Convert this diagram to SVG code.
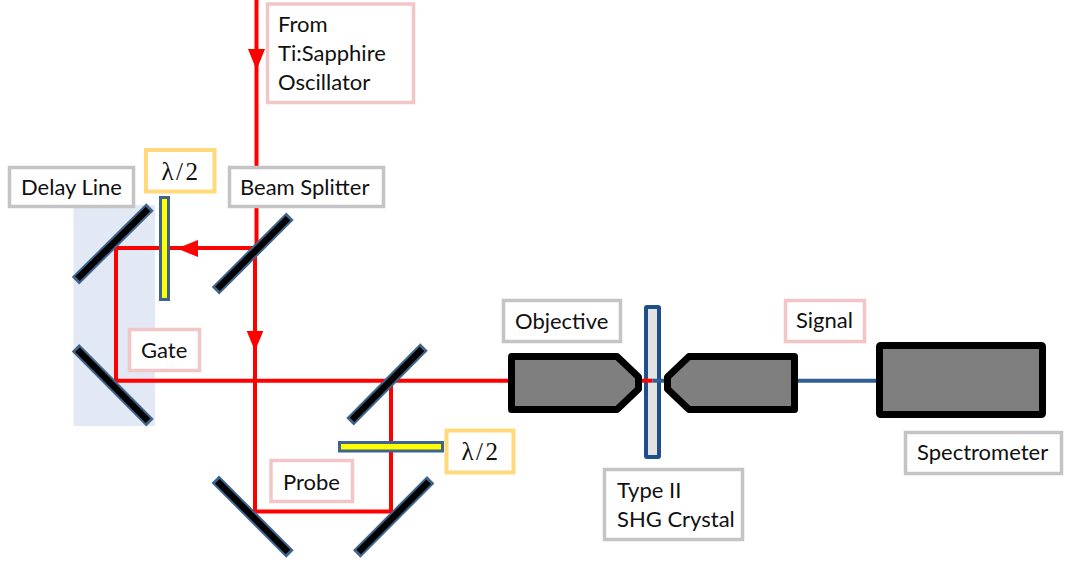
<svg xmlns="http://www.w3.org/2000/svg" width="1065" height="563" viewBox="0 0 1065 563">
<style>
text{font-family:"Lato","Open Sans","Liberation Sans",sans-serif;font-size:22px;fill:#111}
.lam{font-family:"Liberation Serif","DejaVu Serif",serif;font-size:25px;letter-spacing:2.5px}
.g{fill:#fff;stroke:#c4c4c4;stroke-width:3.5}
.p{fill:#fff;stroke:#f2c6c6;stroke-width:3.5}
.y{fill:#fff;stroke:#ffd97a;stroke-width:4}
.m{stroke:#3f648c;stroke-width:10.5;stroke-linecap:butt;fill:none}
.mi{stroke:#000;stroke-width:6.5;stroke-linecap:butt;fill:none}
.r{stroke:#f00;stroke-width:4;fill:none}
.wp{fill:#ffff00;stroke:#3f648c;stroke-width:3}
.ob{fill:#7f7f7f;stroke:#000;stroke-width:7;stroke-linejoin:round}
</style>
<rect id="delay-stage" x="73.5" y="205" width="81.5" height="221" fill="#e2e8f4"/>
<g id="connectors">
<path class="r" d="M256.5 0V248M255 248V511.5H391V381"/>
<path class="r" d="M255 248H116V380.7H510"/>
<path d="M248 49H265L256.5 70Z" fill="#f00"/>
<path d="M246.7 331H263.3L255 351Z" fill="#f00"/>
<path d="M198 240V257L177 248.5Z" fill="#f00"/>
<path d="M798 380.7H878" stroke="#2f5f95" stroke-width="4" fill="none"/>
</g>
<g id="mirror-1"><path class="m" d="M75.5 280.7L150 207"/><path class="mi" d="M77.5 278.7L148 209"/></g>
<g id="mirror-2"><path class="m" d="M75.5 347.7L150 422.7"/><path class="mi" d="M77.5 349.7L148 420.7"/></g>
<g id="beam-splitter"><path class="m" d="M215.5 290.7L290 216.3"/><path class="mi" d="M217.5 288.7L288 218.3"/></g>
<g id="mirror-3"><path class="m" d="M350 421.7L424 347"/><path class="mi" d="M352 419.7L422 349"/></g>
<g id="mirror-4"><path class="m" d="M215.3 479.3L290 554"/><path class="mi" d="M217.3 481.3L288 552"/></g>
<g id="mirror-5"><path class="m" d="M356.7 554L430.7 479.7"/><path class="mi" d="M358.7 552L428.7 481.7"/></g>
<g id="waveplate-1"><rect class="wp" x="160.5" y="197.5" width="8" height="102"/></g>
<g id="waveplate-2"><rect class="wp" x="339.5" y="442.5" width="103" height="8.5"/></g>
<g id="crystal"><rect x="646" y="307" width="13" height="150" fill="#e2e2e2" stroke="#1f4e89" stroke-width="4" rx="1"/></g>
<g id="focus-beam">
<path d="M642 380.7H652.5" stroke="#f00" stroke-width="4"/>
<path d="M652.5 380.7H665" stroke="#2f5f95" stroke-width="4"/>
</g>
<g id="objective-1"><path class="ob" d="M511.5 356.5H617L638.5 377V389L617 409.5H511.5Z"/></g>
<g id="objective-2"><path class="ob" d="M794.5 356.5H689L667.5 377V389L689 409.5H794.5Z"/></g>
<g id="spectrometer"><rect x="879.5" y="345.5" width="163" height="69" fill="#7f7f7f" stroke="#000" stroke-width="7" rx="1"/></g>
<g id="label-from"><rect class="p" x="267.5" y="4" width="146" height="98.5"/><text x="278" y="32">From</text><text x="278" y="61">Ti:Sapphire</text><text x="278" y="90">Oscillator</text></g>
<g id="label-delay"><rect class="g" x="9.5" y="167.5" width="124" height="39"/><text x="21" y="195">Delay Line</text></g>
<g id="label-lambda-1"><rect class="y" x="146" y="150" width="68.5" height="41.5"/><text class="lam" x="181" y="180" text-anchor="middle">λ/2</text></g>
<g id="label-beam-splitter"><rect class="g" x="229.5" y="167.5" width="154" height="39"/><text x="240" y="195">Beam Splitter</text></g>
<g id="label-gate"><rect class="p" x="129.5" y="329.5" width="70" height="41"/><text x="141" y="358">Gate</text></g>
<g id="label-probe"><rect class="p" x="271" y="460.5" width="81.5" height="41"/><text x="283" y="490">Probe</text></g>
<g id="label-lambda-2"><rect class="y" x="446.5" y="430.5" width="67" height="42"/><text class="lam" x="481" y="460" text-anchor="middle">λ/2</text></g>
<g id="label-objective"><rect class="g" x="503.5" y="300.5" width="117" height="41"/><text x="515" y="329">Objective</text></g>
<g id="label-crystal"><rect class="g" x="604.5" y="469.5" width="138" height="70"/><text x="617" y="498">Type II</text><text x="617" y="527">SHG Crystal</text></g>
<g id="label-signal"><rect class="p" x="785.5" y="300.5" width="79" height="41"/><text x="796" y="328">Signal</text></g>
<g id="label-spectrometer"><rect class="g" x="905.5" y="432.5" width="156" height="41"/><text x="917" y="460">Spectrometer</text></g>
</svg>
